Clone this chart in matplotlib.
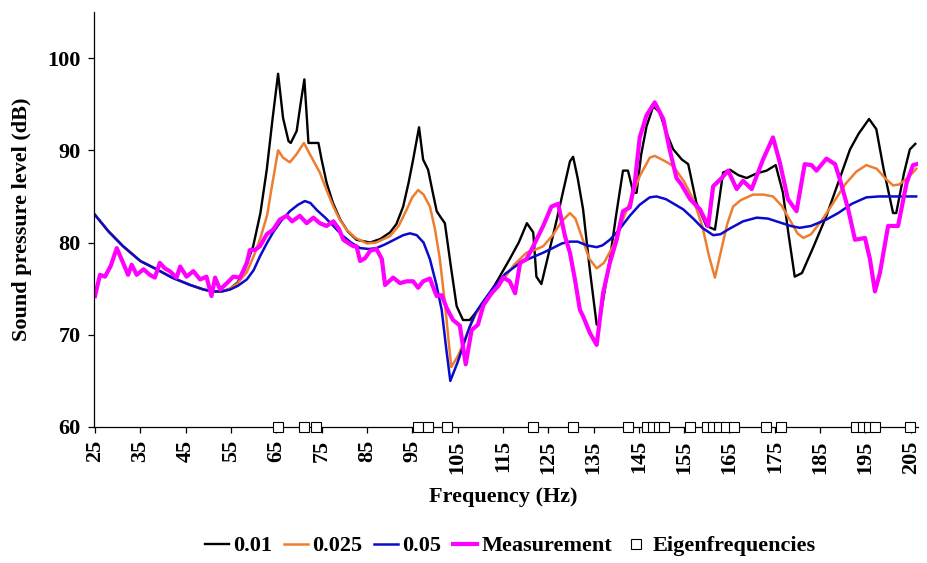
import matplotlib
matplotlib.use("Agg")
import matplotlib.pyplot as plt

plt.rcParams['font.family'] = ['Liberation Serif', 'DejaVu Serif']
plt.rcParams['font.weight'] = 'bold'

# ---- data ----
f_001 = [25, 28, 31.2, 35, 38.6, 42, 46, 49, 51.1, 53, 54.8, 56.5, 58, 59.9, 61.5, 62.9, 64.2, 65.4,
         66.5, 67.7, 68.2, 69.5, 70.5, 71.2, 72.1, 74.3, 75, 76.1, 77.5, 79.1, 80.8, 82.7, 85.7, 88,
         90.1, 91.5, 93, 94.2, 95.2, 96.5, 97.4, 98.5, 99.5, 100.4, 101.2, 102.2, 103.5, 104.8, 106.2,
         107.7, 109, 110.7, 113, 116.5, 118.5, 120.3, 121.7, 122.4, 123.5, 125.2, 126.9, 128.5, 129.8,
         130.5, 131.5, 132.7, 134.2, 135.7, 136.3, 138.6, 140, 141.5, 142.6, 143.8, 144.5, 145.5, 146.7,
         148.2, 149.6, 151, 152.6, 154.5, 155.9, 157.7, 159.9, 161.8, 163.6, 165.1, 167, 168.8, 171,
         173.2, 175.2, 176.8, 178, 179.4, 181, 183.5, 186.4, 189, 191.6, 193.5, 195.8, 197.4, 199,
         201.1, 201.8, 203.5, 204.8, 206.0]
spl_001 = [83.0, 81.2, 79.6, 78.0, 77.1, 76.2, 75.4, 74.9, 74.7, 74.7, 75.0, 75.7, 77.0, 79.6, 83.2, 87.9,
           93.5, 98.3, 93.5, 91.0, 90.8, 92.1, 95.5, 97.7, 90.8, 90.8, 89.0, 86.5, 84.3, 82.5, 81.2, 80.3,
           80.0, 80.4, 81.1, 82.0, 83.9, 86.5, 89.0, 92.5, 89.0, 87.9, 85.5, 83.4, 82.8, 82.1, 77.5, 73.1,
           71.6, 71.6, 72.4, 73.4, 75.2, 78.2, 80.0, 82.1, 81.1, 76.3, 75.5, 79.0, 82.5, 86.0, 88.8, 89.3,
           87.0, 83.6, 77.0, 71.1, 71.3, 78.2, 83.0, 87.8, 87.8, 85.4, 85.4, 89.5, 92.6, 94.8, 94.1, 92.0,
           90.1, 89.0, 88.5, 84.3, 81.8, 81.4, 87.6, 87.9, 87.3, 87.0, 87.5, 87.8, 88.4, 85.4, 81.0, 76.3,
           76.7, 79.5, 82.9, 86.5, 90.1, 91.8, 93.4, 92.3, 88.0, 83.2, 83.2, 87.5, 90.1, 90.7]

f_0025 = [25, 28, 31.2, 35, 38.6, 42, 46, 49, 51.1, 53, 54.8, 56.5, 58.5, 60, 61.5, 63, 64, 65.4, 66.5,
          68, 69.5, 71.1, 72.5, 74.6, 76, 77.6, 79, 80.5, 82.5, 85, 87, 90.1, 92, 93.8, 95, 96.3, 97.5,
          98.9, 100, 101.1, 102.3, 103.6, 105.2, 107.3, 109, 110.7, 113, 115.1, 117.5, 120.2, 122, 123.9,
          126, 128, 129.8, 131, 132.5, 134, 135.7, 137.3, 139.3, 141.5, 143.8, 145.2, 147.4, 148.5, 150.5,
          152.6, 155, 157, 159, 160.5, 161.8, 163, 164.5, 165.8, 167.5, 170.2, 172.5, 174.6, 176.5, 178.5,
          180, 181.3, 183, 185.5, 187.9, 190.5, 193, 195.2, 197.5, 199.5, 201.1, 202.5, 204, 205.5, 206.2]
spl_0025 = [83.0, 81.2, 79.6, 78.0, 77.1, 76.2, 75.4, 74.9, 74.7, 74.7, 75.0, 75.6, 76.8, 78.5, 80.5, 83.0,
            86.0, 90.0, 89.2, 88.7, 89.6, 90.8, 89.5, 87.6, 85.8, 83.9, 82.5, 81.4, 80.5, 79.9, 80.0, 80.7,
            81.8, 83.6, 84.9, 85.7, 85.2, 83.9, 81.5, 78.2, 73.0, 66.5, 67.8, 70.4, 72.2, 73.4, 74.8, 76.0,
            77.6, 78.9, 79.2, 79.6, 80.8, 82.3, 83.2, 82.6, 80.5, 78.3, 77.2, 77.8, 79.6, 82.5, 85.4, 87.2,
            89.2, 89.4, 88.9, 88.3, 86.6, 84.7, 81.8, 78.5, 76.2, 78.8, 82.0, 83.9, 84.6, 85.2, 85.2, 85.0,
            84.0, 82.3, 81.0, 80.5, 80.9, 82.5, 84.3, 86.3, 87.7, 88.4, 88.0, 86.9, 86.2, 86.3, 86.9, 87.6,
            88.0]

f_005 = [25, 28, 31.2, 35, 38.6, 42, 46, 49, 51.1, 53, 54.8, 56.5, 58.5, 60, 61.4, 63, 64.3, 66, 68,
         69.8, 71.3, 72.5, 74, 75.8, 77.6, 79.5, 81.5, 83.5, 85.5, 87.1, 89, 91, 93, 94.5, 96, 97.5, 98.9,
         100.3, 101.5, 102.5, 103.4, 105, 106.3, 107.7, 109, 110.5, 113, 115.5, 118.8, 121.5, 123.9, 126,
         128, 129.8, 131.5, 133.5, 135.7, 137, 138.6, 140.5, 143, 145.2, 147.4, 148.9, 151, 154.8, 157,
         159, 161.4, 163, 165, 168, 171, 173.5, 176, 178.5, 180.5, 183, 186.4, 189, 192, 195.2, 198, 202,
         206.2]
spl_005 = [83.0, 81.2, 79.6, 78.0, 77.1, 76.2, 75.4, 74.9, 74.7, 74.7, 74.9, 75.3, 76.0, 77.0, 78.5, 80.0,
           81.1, 82.3, 83.4, 84.1, 84.5, 84.3, 83.5, 82.7, 81.8, 80.8, 80.0, 79.4, 79.3, 79.4, 79.8, 80.3,
           80.8, 81.0, 80.8, 80.0, 78.2, 75.5, 72.7, 68.5, 65.0, 67.0, 68.9, 70.9, 72.4, 73.5, 75.2, 76.6,
           77.8, 78.4, 78.9, 79.4, 79.9, 80.1, 80.1, 79.7, 79.5, 79.7, 80.3, 81.3, 82.9, 84.1, 84.9, 85.0,
           84.7, 83.6, 82.6, 81.6, 80.8, 80.9, 81.5, 82.3, 82.7, 82.6, 82.2, 81.8, 81.6, 81.8, 82.5, 83.2,
           84.2, 84.9, 85.0, 85.0, 85.0]

f_meas = [25, 26.1, 27.2, 28.5, 29.8, 31.2, 32.3, 33.1, 34.2, 35.7, 37.1, 38.2, 39.3, 40.4, 41.5, 43, 43.8,
          45.2, 46.7, 48.2, 49.6, 50.7, 51.5, 52.6, 54.1, 55.5, 57, 58.5, 59.2, 60.3, 61.4, 62.9, 64.3,
          65.8, 67.3, 68.5, 70.2, 71.7, 73.2, 74.6, 76.1, 77.6, 78.8, 79.8, 82, 82.7, 83.5, 84.6, 85.7,
          87.1, 88.3, 89, 90.8, 92.3, 93.8, 95.2, 96.3, 97.4, 98.9, 99.5, 100.4, 101.5, 102.6, 104, 105.5,
          106.8, 108.1, 109.5, 110.7, 112.5, 114, 115.1, 116.5, 117.7, 118.8, 120.2, 121.7, 122.4, 123.9,
          125.7, 127.2, 128.7, 129.8, 130.9, 132, 132.7, 134.2, 135.7, 137.1, 138.6, 140.1, 141.5, 143,
          144.1, 145.2, 146.7, 148.5, 150.4, 151.8, 153.3, 154.4, 156.3, 158.5, 160.3, 161.4, 163.3, 164.7,
          166.6, 168, 169.9, 172.4, 174.6, 176.1, 177.9, 179.8, 181.6, 183.1, 184.2, 186.4, 188.3, 189.4,
          191.2, 192.7, 194.9, 196, 197.1, 198.2, 200, 202.2, 204.1, 205.5, 206.3]
spl_meas = [74.2, 76.5, 76.3, 77.5, 79.4, 77.8, 76.5, 77.6, 76.5, 77.1, 76.5, 76.2, 77.8, 77.2, 76.9, 76.2,
            77.4, 76.3, 76.9, 76.0, 76.3, 74.2, 76.2, 74.9, 75.6, 76.3, 76.2, 77.8, 79.2, 79.2, 79.6, 80.9,
            81.4, 82.5, 82.9, 82.3, 82.9, 82.1, 82.7, 82.1, 81.8, 82.3, 81.5, 80.3, 79.6, 79.6, 78.0, 78.3,
            79.1, 79.3, 78.2, 75.4, 76.2, 75.6, 75.8, 75.8, 75.1, 75.8, 76.1, 75.3, 74.2, 74.3, 72.9, 71.6,
            71.0, 66.8, 70.5, 71.1, 73.2, 74.5, 75.3, 76.2, 75.8, 74.5, 77.8, 78.2, 79.6, 80.3, 81.8, 83.9,
            84.2, 80.7, 78.9, 76.0, 72.7, 72.0, 70.2, 68.9, 74.5, 77.8, 80.3, 83.4, 83.8, 86.5, 91.4, 93.8,
            95.2, 93.4, 90.1, 87.0, 86.3, 84.7, 83.6, 81.8, 86.1, 87.0, 87.8, 85.8, 86.7, 85.8, 89.0, 91.4,
            88.7, 84.7, 83.4, 88.5, 88.4, 87.8, 89.1, 88.5, 86.8, 83.6, 80.3, 80.5, 78.2, 74.7, 76.7, 81.8,
            81.8, 86.5, 88.4, 88.5]

eigen_f = [65.3, 71.2, 73.7, 96.3, 98.5, 102.6, 121.6, 130.5, 142.6, 146.9, 148.2, 149.5, 150.6, 156.4,
           160.1, 161.4, 162.7, 164.2, 165.9, 173.0, 176.3, 193.0, 194.5, 195.8, 197.1, 204.9]
eigen_level = [60] * len(eigen_f)

labels = ['0.01', '0.025', '0.05', 'Measurement', 'Eigenfrequencies']
colors = ['#000000', '#ED7D31', '#0A0ACC', '#FF00FF']
xticks = list(range(25, 206, 10))
yticks = [60, 70, 80, 90, 100]

# ---- figure ----
fig = plt.figure(figsize=(9.27, 5.63), dpi=100)
ax = fig.add_axes([94 / 927, 1 - 427 / 563, (918 - 94) / 927, (427 - 12) / 563])

ax.plot(f_001, spl_001, color=colors[0], lw=1.7, label=labels[0])
ax.plot(f_0025, spl_0025, color=colors[1], lw=1.8, label=labels[1])
ax.plot(f_005, spl_005, color=colors[2], lw=1.8, label=labels[2])
ax.plot(f_meas, spl_meas, color=colors[3], lw=3.0, label=labels[3])
ax.plot(eigen_f, eigen_level, ls='none', marker='s', ms=6.8, mfc='white', mec='black', mew=0.8,
        clip_on=False, label=labels[4], zorder=5)

ax.set_xlim(24.78, 206.6)
ax.set_ylim(60, 105)
ax.set_xticks(xticks)
ax.set_xticklabels([str(v) for v in xticks], rotation=90, fontsize=16, fontweight='bold')
ax.set_yticks(yticks)
ax.set_yticklabels([str(v) for v in yticks], fontsize=16, fontweight='bold')
ax.tick_params(axis='both', direction='out', length=4.5, width=0.9, pad=5)

for s in ['top', 'right']:
    ax.spines[s].set_visible(False)
for s in ['left', 'bottom']:
    ax.spines[s].set_linewidth(0.9)

fig.text(22 / 927, 1 - 219 / 563, 'Sound pressure level (dB)', rotation=90, ha='center', va='center',
         fontsize=16, fontweight='bold')
fig.text(503 / 927, 1 - 497 / 563, 'Frequency (Hz)', ha='center', va='center',
         fontsize=16, fontweight='bold')

handles, labs = ax.get_legend_handles_labels()
fig.legend(handles, labs, loc='center', bbox_to_anchor=(510 / 927, 1 - 546 / 563), ncol=5,
           frameon=False, prop={'size': 16, 'weight': 'bold'}, handlelength=1.1, handletextpad=0.2,
           columnspacing=0.5, borderpad=0)

fig.savefig('out.png', dpi=100)
